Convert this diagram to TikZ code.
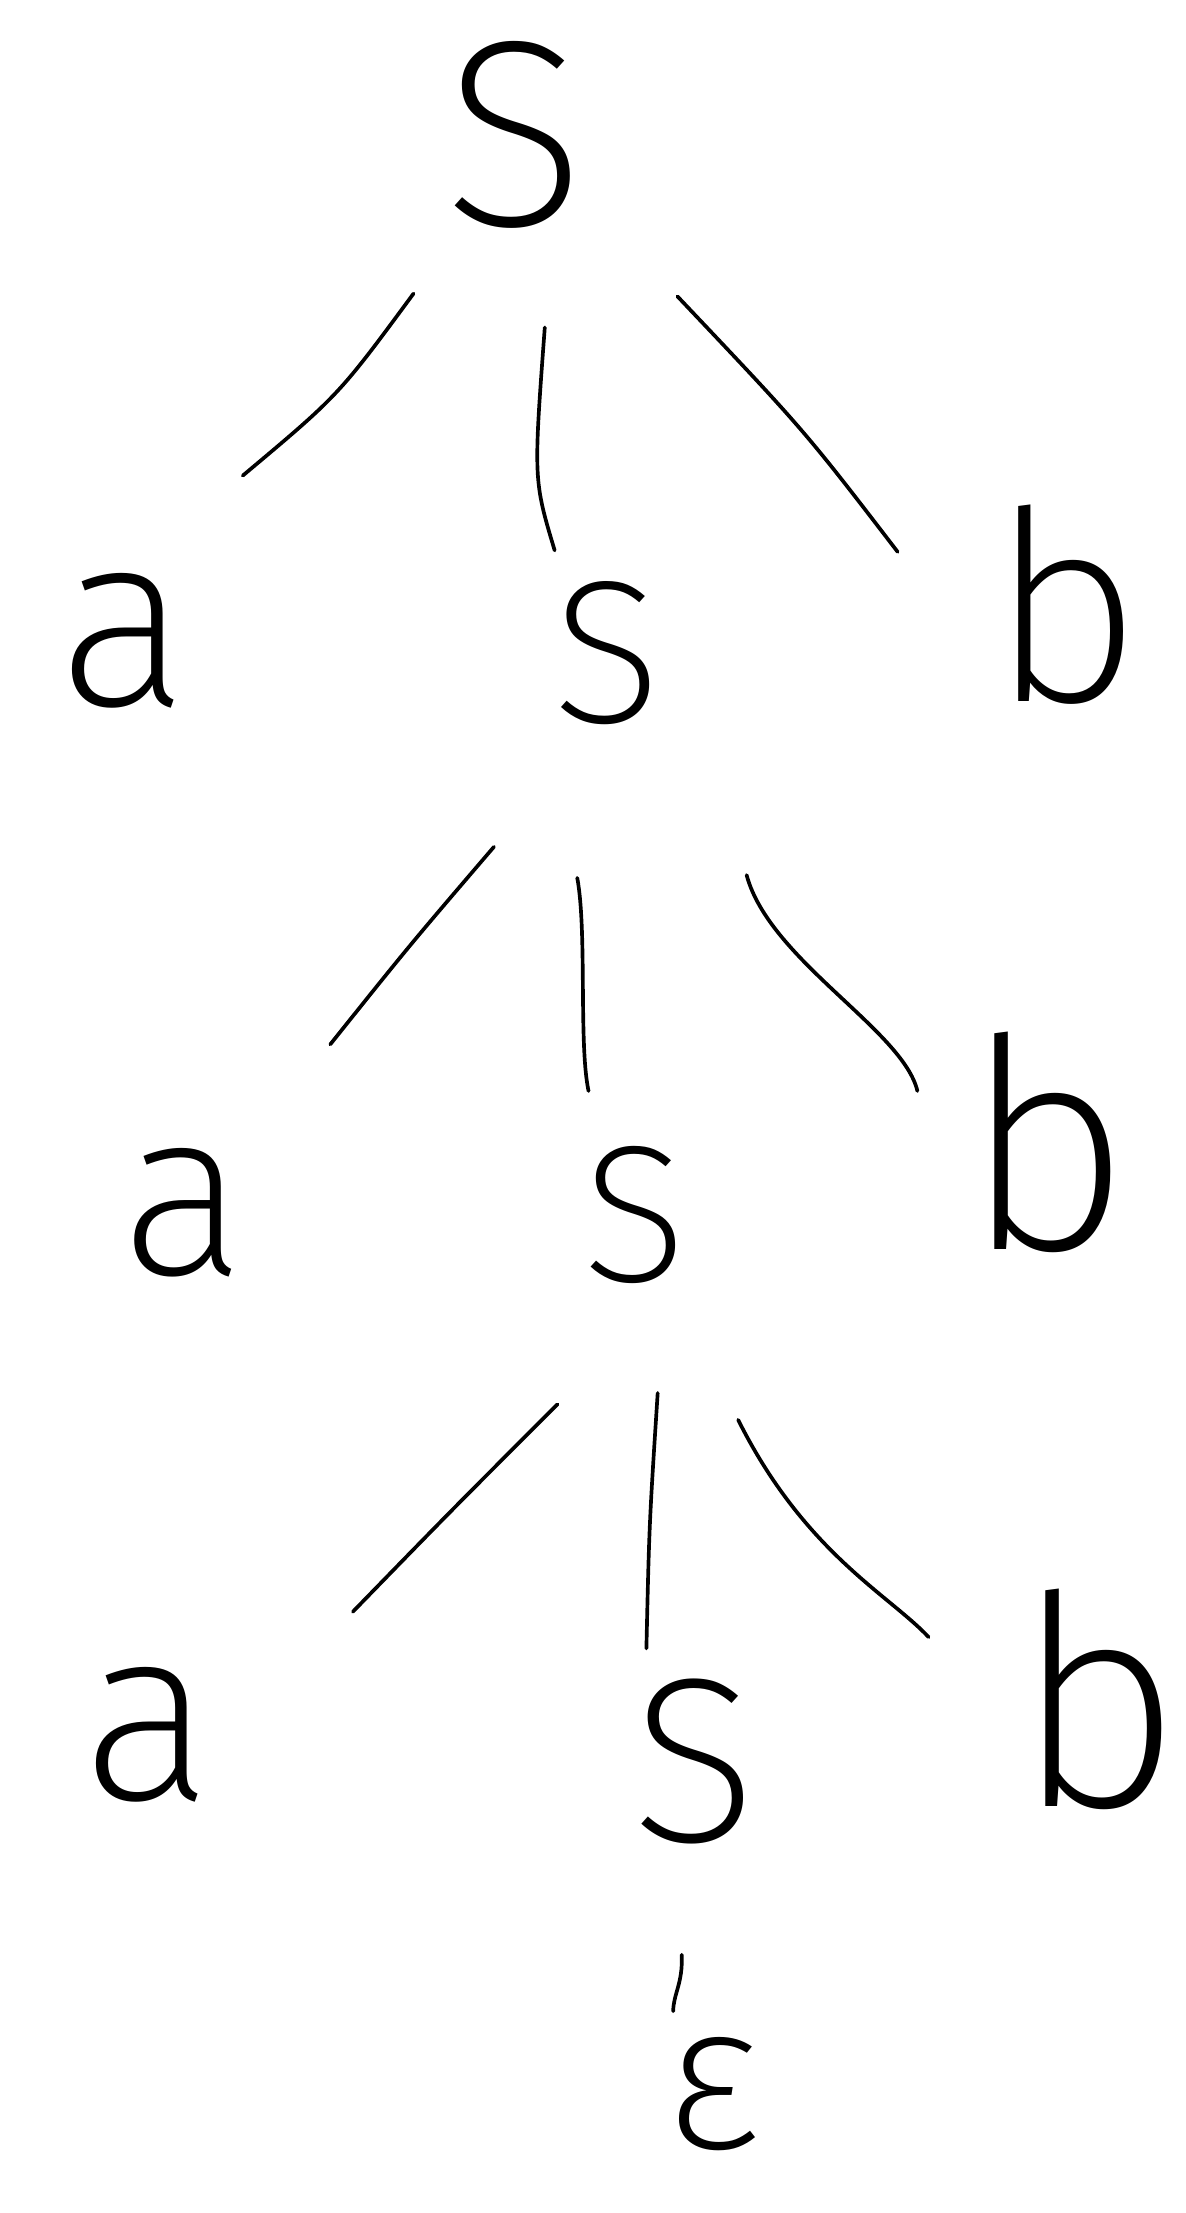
\documentclass[tikz,border=0pt]{standalone}
\usepackage{fontspec}
\IfFontExistsTF{FiraSans-ExtraLight}{\newfontfamily\hand{FiraSans-ExtraLight}}{%
 \IfFontExistsTF{Fira Sans ExtraLight}{\newfontfamily\hand{Fira Sans ExtraLight}}{%
  \IfFontExistsTF{FiraSans-Light}{\newfontfamily\hand{FiraSans-Light}}{%
   \IfFontExistsTF{Lato Light}{\newfontfamily\hand{Lato Light}}{%
    \newfontfamily\hand{Fira Sans}}}}}
\begin{document}
\begin{tikzpicture}[x=0.5pt,y=-0.5pt,
  sym/.style={anchor=base,inner sep=0pt,font=\hand},
  edge/.style={line width=1.3pt,line cap=round,line join=round}]
\useasboundingbox (0,0) rectangle (840,1568);
% nodes
\node[sym,font=\hand\fontsize{94}{94}\selectfont] (S1) at (365,160) {S};
\node[sym,font=\hand\fontsize{88}{88}\selectfont] (a1) at (88,500) {a};
\node[sym,font=\hand\fontsize{72}{72}\selectfont] (S2) at (430,512) {S};
\node[sym,font=\hand\fontsize{94}{94}\selectfont] (b1) at (755,497) {b};
\node[sym,font=\hand\fontsize{84}{84}\selectfont] (a2) at (130,903) {a};
\node[sym,font=\hand\fontsize{69}{69}\selectfont] (S3) at (450,908) {S};
\node[sym,font=\hand\fontsize{104}{104}\selectfont] (b2) at (742,885) {b};
\node[sym,font=\hand\fontsize{88}{88}\selectfont] (a3) at (105,1275) {a};
\node[sym,font=\hand\fontsize{83}{83}\selectfont] (S4) at (492,1305) {S};
\node[sym,font=\hand\fontsize{104}{104}\selectfont] (b3) at (778,1280) {b};
\node[sym,font=\hand\fontsize{74}{74}\selectfont] (eps) at (505,1522) {ε};
% connector end points
\coordinate (S1a) at (293,208); \coordinate (a1e) at (172,337);
\coordinate (S1s) at (386,232); \coordinate (S2e) at (393,390);
\coordinate (S1b) at (480,210); \coordinate (b1e) at (636,391);
\coordinate (S2a) at (350,600); \coordinate (a2e) at (234,740);
\coordinate (S2s) at (409,622); \coordinate (S3e) at (417,773);
\coordinate (S2b) at (529,620); \coordinate (b2e) at (650,773);
\coordinate (S3a) at (395,995); \coordinate (a3e) at (250,1142);
\coordinate (S3s) at (466,987); \coordinate (S4e) at (458,1168);
\coordinate (S3b) at (523,1006); \coordinate (b3e) at (658,1160);
\coordinate (S4s) at (483,1385); \coordinate (epse) at (477,1425);
% connectors
\draw[edge] (S1a) .. controls (240,280) .. (a1e);
\draw[edge] (S1s) .. controls (378,340) .. (S2e);
\draw[edge] (S1b) .. controls (570,305) .. (b1e);
\draw[edge] (S2a) .. controls (290,670) .. (a2e);
\draw[edge] (S2s) .. controls (416,660) and (410,740) .. (S3e);
\draw[edge] (S2b) .. controls (545,680) and (640,730) .. (b2e);
\draw[edge] (S3a) .. controls (320,1070) .. (a3e);
\draw[edge] (S3s) .. controls (460,1080) .. (S4e);
\draw[edge] (S3b) .. controls (570,1100) and (630,1130) .. (b3e);
\draw[edge] (S4s) .. controls (484,1405) and (477,1413) .. (epse);
\end{tikzpicture}
\end{document}
